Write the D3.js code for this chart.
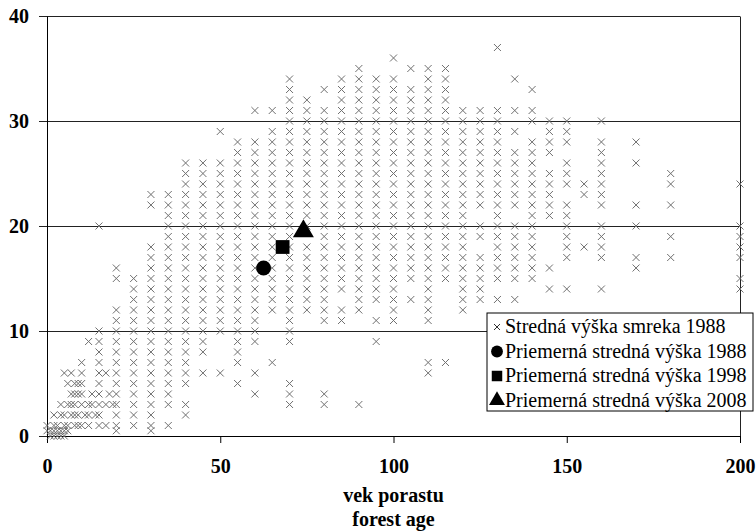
<!DOCTYPE html>
<html lang="sk">
<head>
<meta charset="UTF-8">
<title>Stredná výška smreka</title>
<script src="https://d3js.org/d3.v7.min.js"></script>
<style>
  body { margin: 0; background: #fff; }
  svg text { font-family: "Liberation Serif", "Times New Roman", Times, serif; }
</style>
</head>
<body>
<div id="chart"></div>
<script>
// young stands (age < 20), listed per height level
const youngHeights = [0, 0.5, 1, 2, 3, 4, 5, 6, 7, 8, 9, 10, 20];
const youngAges = [
  [1, 2, 3, 4, 5],
  [0, 1, 2, 3, 4, 5, 6],
  [0, 2, 3, 5, 6, 8, 9, 10, 12, 15, 17],
  [2, 4, 5, 7, 8, 9, 11, 12, 14, 15],
  [4, 6, 7, 8, 10, 12, 13, 15, 17, 19],
  [7, 8, 9, 10, 13, 15, 18],
  [6, 8, 9, 10, 15],
  [5, 7, 10, 15, 17],
  [10, 15],
  [15],
  [12, 15],
  [15],
  [15]
];

// older stands, one column of heights per age class
const colAges = [20, 25, 30, 35, 40, 45, 50, 55, 60, 65, 70, 75, 80, 85, 90, 95, 100,
  105, 110, 115, 120, 125, 130, 135, 140, 145, 150, 155, 160, 170, 180, 200];
const colHeights = [
  [16, 15, 12, 11, 10, 9, 8, 7, 6, 5, 4, 3, 2, 1, 0.5],
  [15, 14, 13, 12, 11, 10, 9, 8, 7, 6, 5, 4, 3, 2, 1],
  [23, 22, 18, 17, 16, 15, 14, 13, 12, 11, 10, 9, 8, 7, 6, 5, 4, 3, 2, 1, 0.5],
  [23, 22, 21, 20, 19, 18, 17, 16, 15, 14, 13, 12, 11, 10, 9, 8, 7, 6, 5, 4, 3, 1],
  [26, 25, 24, 23, 22, 21, 20, 19, 18, 17, 16, 15, 14, 13, 12, 11, 10, 9, 8, 7, 6, 5, 3, 2],
  [26, 25, 24, 23, 22, 21, 20, 19, 18, 17, 16, 15, 14, 13, 12, 11, 10, 9, 8, 6],
  [29, 26, 25, 24, 23, 22, 21, 20, 19, 18, 17, 16, 15, 14, 13, 12, 11, 10, 6],
  [28, 27, 26, 25, 24, 23, 22, 21, 20, 19, 18, 17, 16, 15, 14, 13, 12, 11, 10, 9, 8, 7, 5],
  [31, 28, 27, 26, 25, 24, 23, 22, 21, 20, 19, 18, 17, 16, 15, 14, 13, 12, 11, 10, 9, 6, 4],
  [31, 29, 28, 27, 26, 25, 24, 23, 22, 21, 20, 19, 18, 17, 16, 15, 14, 13, 12, 7],
  [34, 33, 32, 31, 30, 29, 28, 27, 26, 25, 24, 23, 22, 21, 20, 19, 18, 17, 16, 15, 14, 13, 12, 11, 10, 9, 5, 4, 3],
  [32, 31, 30, 29, 28, 27, 26, 25, 24, 23, 22, 21, 20, 18, 17, 16, 15, 14, 13, 12],
  [33, 31, 30, 29, 28, 27, 26, 25, 24, 23, 22, 21, 20, 19, 18, 17, 16, 15, 14, 13, 12, 11, 4, 3],
  [34, 33, 32, 31, 30, 29, 28, 27, 26, 25, 24, 23, 22, 21, 20, 19, 18, 17, 16, 15, 14, 12, 11],
  [35, 34, 33, 32, 31, 30, 29, 28, 27, 26, 25, 24, 23, 22, 21, 20, 19, 18, 17, 16, 15, 14, 13, 12, 3],
  [34, 33, 32, 31, 30, 29, 28, 27, 26, 25, 24, 23, 22, 21, 20, 19, 18, 17, 16, 15, 14, 13, 11, 9],
  [36, 34, 33, 32, 31, 30, 29, 28, 27, 26, 25, 24, 23, 22, 21, 20, 19, 18, 17, 16, 15, 14, 13, 12, 11],
  [35, 33, 32, 31, 30, 29, 28, 27, 26, 25, 24, 23, 22, 21, 20, 19, 18, 17, 16, 15, 13],
  [35, 34, 33, 32, 31, 30, 29, 28, 27, 26, 25, 24, 23, 22, 21, 20, 19, 18, 17, 16, 15, 14, 13, 12, 11, 7, 6],
  [35, 34, 33, 32, 31, 30, 29, 28, 27, 26, 25, 24, 23, 22, 21, 20, 19, 18, 17, 16, 15, 7],
  [31, 30, 29, 28, 27, 26, 25, 24, 23, 22, 21, 20, 19, 18, 17, 16, 15, 14, 13, 12],
  [31, 30, 29, 28, 27, 26, 25, 24, 23, 22, 20, 19, 17, 16, 15, 14, 13],
  [37, 31, 30, 29, 28, 27, 26, 25, 24, 23, 22, 21, 20, 19, 18, 17, 16, 15, 13],
  [34, 31, 29, 27, 26, 25, 24, 23, 22, 20, 19, 18, 17, 16, 15, 13],
  [33, 31, 30, 28, 27, 26, 25, 24, 23, 22, 21, 20, 19, 18, 17, 16, 15],
  [30, 29, 28, 27, 25, 24, 23, 22, 21, 16, 14],
  [30, 29, 28, 26, 25, 24, 22, 21, 20, 19, 18, 17, 14],
  [24, 23, 18],
  [30, 28, 27, 26, 25, 24, 23, 22, 20, 19, 18, 17, 14],
  [28, 26, 22, 20, 17, 16],
  [25, 24, 22, 19, 17],
  [24, 20, 19, 18, 17, 15, 14]
];

// mean heights of the stand in 1988, 1998, 2008
const meanLabels = ["Priemerná stredná výška 1988", "Priemerná stredná výška 1998", "Priemerná stredná výška 2008"];
const meanAges = [62.5, 68, 74];
const meanHeights = [16, 18, 19.5];
const meanSymbols = [d3.symbolCircle, d3.symbolSquare, d3.symbolTriangle];

const xTicks = [0, 50, 100, 150, 200];
const yTicks = [0, 10, 20, 30, 40];

const serif = '"Liberation Serif", "Times New Roman", Times, serif';
const W = 756, H = 531;
const plot = { left: 47, right: 740, top: 16, bottom: 436 };

const points = [];
youngHeights.forEach((h, i) => youngAges[i].forEach(a => points.push({ age: a, h: h })));
colAges.forEach((a, i) => colHeights[i].forEach(h => points.push({ age: a, h: h })));

const x = d3.scaleLinear().domain([0, 200]).range([plot.left, plot.right]);
const y = d3.scaleLinear().domain([0, 40]).range([plot.bottom, plot.top]);

const svg = d3.select("#chart").append("svg")
  .attr("width", W)
  .attr("height", H)
  .style("font-family", serif);

svg.append("rect").attr("width", W).attr("height", H).attr("fill", "#fff");

// gridlines + left tick labels, drawn from the right border
const grid = svg.append("g")
  .attr("transform", `translate(${plot.right},0)`)
  .call(d3.axisLeft(y).tickValues(yTicks).tickSize(plot.right - 39).tickSizeOuter(0).tickPadding(10))
  .attr("font-family", serif);
grid.selectAll("line").attr("stroke", "#222");
grid.select(".domain").attr("stroke", "#222");
grid.selectAll("text")
  .style("font-family", serif)
  .attr("font-weight", "bold")
  .attr("font-size", 20)
  .attr("fill", "#000");

// left y axis line
svg.append("g")
  .attr("transform", `translate(${plot.left},0)`)
  .call(d3.axisLeft(y).tickValues([]).tickSizeOuter(0))
  .select(".domain").attr("stroke", "#000");

// x axis
const xAxis = svg.append("g")
  .attr("transform", `translate(0,${plot.bottom})`)
  .call(d3.axisBottom(x).tickValues(xTicks).tickSize(7).tickSizeOuter(0).tickPadding(16))
  .attr("font-family", serif);
xAxis.selectAll("line, .domain").attr("stroke", "#000");
xAxis.selectAll("text")
  .style("font-family", serif)
  .attr("font-weight", "bold")
  .attr("font-size", 20)
  .attr("fill", "#000");

svg.append("text")
  .attr("x", x(100)).attr("y", 502)
  .attr("text-anchor", "middle")
  .style("font-family", serif)
  .attr("font-weight", "bold").attr("font-size", 20)
  .text("vek porastu");
svg.append("text")
  .attr("x", x(100)).attr("y", 526)
  .attr("text-anchor", "middle")
  .style("font-family", serif)
  .attr("font-weight", "bold").attr("font-size", 20)
  .text("forest age");

// scatter of cross markers
const cross = "M-3.5,-3.5L3.5,3.5M3.5,-3.5L-3.5,3.5";
svg.append("g")
  .selectAll("path")
  .data(points)
  .join("path")
  .attr("transform", d => `translate(${x(d.age)},${y(d.h)})`)
  .attr("d", cross)
  .attr("fill", "none")
  .attr("stroke", "#707070")
  .attr("stroke-width", 1);

// mean markers
svg.append("g")
  .selectAll("path")
  .data(meanAges)
  .join("path")
  .attr("transform", (d, i) => `translate(${x(d)},${y(meanHeights[i])})`)
  .attr("d", (d, i) => d3.symbol().type(meanSymbols[i]).size(i === 0 ? 175 : 190)())
  .attr("fill", "#000");

// legend
const lg = svg.append("g").attr("transform", "translate(487,313)");
lg.append("rect")
  .attr("width", 266).attr("height", 98)
  .attr("fill", "#fff").attr("stroke", "#000");
const legendLabels = ["Stredná výška smreka 1988"].concat(meanLabels);
legendLabels.forEach((lab, i) => {
  const cy = 14 + i * 24.5;
  if (i === 0) {
    lg.append("path").attr("transform", `translate(10,${cy})`)
      .attr("d", "M-3,-3L3,3M3,-3L-3,3").attr("stroke", "#333").attr("fill", "none");
  } else {
    lg.append("path").attr("transform", `translate(10,${cy})`)
      .attr("d", d3.symbol().type(meanSymbols[i - 1]).size(110)())
      .attr("fill", "#000");
  }
  lg.append("text")
    .attr("x", 18).attr("y", cy + 6)
    .style("font-family", serif)
    .attr("font-size", 20)
    .text(lab);
});
</script>
</body>
</html>
